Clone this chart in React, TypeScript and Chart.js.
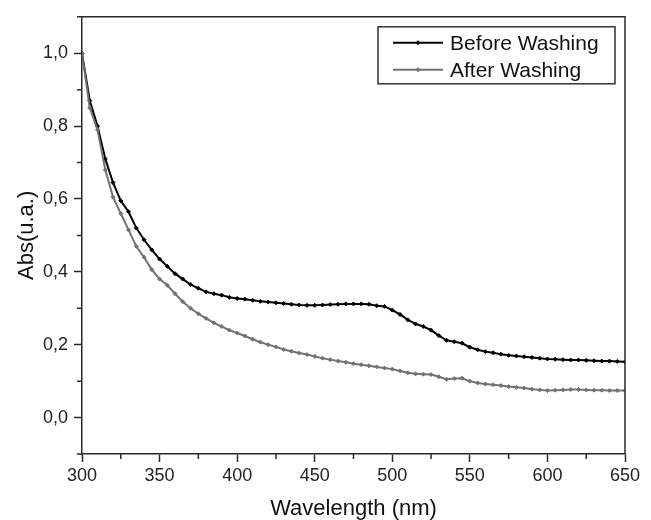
import { useEffect, useRef } from "react";
import { Chart, registerables } from "chart.js";

Chart.register(...registerables);

const wavelengths = [
  300, 305, 310, 315, 320, 325, 330, 335, 340, 345, 350, 355, 360, 365, 370, 375,
  380, 385, 390, 395, 400, 405, 410, 415, 420, 425, 430, 435, 440, 445, 450, 455,
  460, 465, 470, 475, 480, 485, 490, 495, 500, 505, 510, 515, 520, 525, 530, 535,
  540, 545, 550, 555, 560, 565, 570, 575, 580, 585, 590, 595, 600, 605, 610, 615,
  620, 625, 630, 635, 640, 645, 650,
];

const beforeWashing = [
  1.0, 0.87, 0.8, 0.71, 0.645, 0.595, 0.565, 0.52, 0.488, 0.46, 0.435, 0.415, 0.395, 0.38, 0.365, 0.355,
  0.345, 0.34, 0.336, 0.33, 0.327, 0.325, 0.322, 0.319, 0.317, 0.315, 0.313, 0.311, 0.309, 0.308, 0.308, 0.309,
  0.31, 0.311, 0.312, 0.312, 0.312, 0.311, 0.307, 0.305, 0.295, 0.283, 0.268, 0.257, 0.25, 0.24, 0.225, 0.212,
  0.208, 0.204, 0.193, 0.186, 0.181, 0.178, 0.174, 0.171, 0.169, 0.167, 0.165, 0.163, 0.161, 0.16, 0.159, 0.158,
  0.158, 0.157, 0.156, 0.155, 0.155, 0.154, 0.153,
];

const afterWashing = [
  1.0, 0.85, 0.79, 0.68, 0.605, 0.56, 0.515, 0.47, 0.44, 0.406, 0.38, 0.363, 0.34, 0.318, 0.3, 0.285,
  0.272, 0.26, 0.25, 0.24, 0.232, 0.224, 0.215, 0.207, 0.2, 0.194, 0.187, 0.182, 0.177, 0.173, 0.168, 0.163,
  0.159, 0.155, 0.152, 0.148, 0.145, 0.142, 0.139, 0.136, 0.133, 0.128, 0.123, 0.12, 0.119, 0.118, 0.112, 0.105,
  0.107, 0.108, 0.1, 0.095, 0.092, 0.09, 0.088, 0.085, 0.083, 0.081, 0.078, 0.076, 0.074, 0.075, 0.076, 0.077,
  0.077, 0.076, 0.075, 0.075, 0.074, 0.074, 0.074,
];

const seriesLabels = ["Before Washing", "After Washing"];
const xMajorTicks = [300, 350, 400, 450, 500, 550, 600, 650];
const xMinorTicks = [325, 375, 425, 475, 525, 575, 625];
const yMajorTicks = [0, 0.2, 0.4, 0.6, 0.8, 1.0];
const yMinorTicks = [-0.1, 0.1, 0.3, 0.5, 0.7, 0.9, 1.1];
const xTitle = "Wavelength (nm)";
const yTitle = "Abs(u.a.)";

const FONT = '"Liberation Sans", Arial, Helvetica, sans-serif';
const AXIS_COLOR = "#2a2a2a";

const framePlugin = {
  id: "frameAndLegend",
  afterDraw(chart: any) {
    const { ctx, chartArea, scales } = chart;
    const { left, right, top, bottom } = chartArea;
    ctx.save();
    // frame (top and right sides)
    ctx.strokeStyle = AXIS_COLOR;
    ctx.lineWidth = 1.5;
    ctx.beginPath();
    ctx.moveTo(left, top);
    ctx.lineTo(right, top);
    ctx.lineTo(right, bottom);
    ctx.stroke();
    // minor ticks
    ctx.beginPath();
    xMinorTicks.forEach((v) => {
      const x = scales.x.getPixelForValue(v);
      ctx.moveTo(x, bottom);
      ctx.lineTo(x, bottom + 5);
    });
    yMinorTicks.forEach((v) => {
      const y = scales.y.getPixelForValue(v);
      ctx.moveTo(left, y);
      ctx.lineTo(left - 5, y);
    });
    ctx.stroke();

    // legend box
    const bx = right - 247;
    const by = top + 10;
    const bw = 237;
    const bh = 57;
    ctx.fillStyle = "#ffffff";
    ctx.fillRect(bx, by, bw, bh);
    ctx.strokeStyle = "#333333";
    ctx.lineWidth = 1.5;
    ctx.strokeRect(bx, by, bw, bh);
    chart.data.datasets.forEach((ds: any, i: number) => {
      const ly = by + 16 + i * 27;
      ctx.strokeStyle = ds.borderColor;
      ctx.lineWidth = 2;
      ctx.beginPath();
      ctx.moveTo(bx + 15, ly);
      ctx.lineTo(bx + 65, ly);
      ctx.stroke();
      ctx.fillStyle = ds.borderColor;
      ctx.beginPath();
      ctx.moveTo(bx + 40, ly - 2.5);
      ctx.lineTo(bx + 42.5, ly);
      ctx.lineTo(bx + 40, ly + 2.5);
      ctx.lineTo(bx + 37.5, ly);
      ctx.closePath();
      ctx.fill();
      ctx.fillStyle = "#111111";
      ctx.font = `21px ${FONT}`;
      ctx.textBaseline = "middle";
      ctx.textAlign = "left";
      ctx.fillText(ds.label, bx + 72, ly + 1);
    });
    ctx.restore();
  },
};

export default function App() {
  const canvasRef = useRef<HTMLCanvasElement | null>(null);

  useEffect(() => {
    document.body.style.margin = "0";
    const canvas = canvasRef.current;
    if (!canvas) return;
    const chart = new Chart(canvas, {
      type: "line",
      data: {
        datasets: [
          {
            label: seriesLabels[0],
            data: wavelengths.map((w, i) => ({ x: w, y: beforeWashing[i] })),
            borderColor: "#000000",
            backgroundColor: "#000000",
            borderWidth: 2,
            pointStyle: "rectRot",
            pointRadius: 2,
            pointBorderWidth: 1,
            tension: 0,
            order: 1,
          },
          {
            label: seriesLabels[1],
            data: wavelengths.map((w, i) => ({ x: w, y: afterWashing[i] })),
            borderColor: "#727272",
            backgroundColor: "#727272",
            borderWidth: 2,
            pointStyle: "rectRot",
            pointRadius: 2,
            pointBorderWidth: 1,
            tension: 0,
            order: 0,
          },
        ],
      },
      options: {
        responsive: false,
        animation: false,
        devicePixelRatio: 1,
        layout: { padding: { top: 13, right: 26, left: 0, bottom: 0 } },
        plugins: {
          legend: { display: false },
          tooltip: { enabled: false },
        },
        scales: {
          x: {
            type: "linear",
            min: 300,
            max: 650,
            afterBuildTicks: (scale: any) => {
              scale.ticks = xMajorTicks.map((v) => ({ value: v }));
            },
            afterFit: (scale: any) => {
              scale.height = 66;
            },
            grid: {
              drawOnChartArea: false,
              drawTicks: true,
              tickLength: 8,
              tickColor: AXIS_COLOR,
              tickWidth: 1.5,
            },
            border: { display: true, color: AXIS_COLOR, width: 1.5 },
            ticks: {
              padding: 3,
              color: "#222222",
              font: { family: FONT, size: 18 },
              maxRotation: 0,
              callback: (v: any) => String(v),
            },
            title: {
              display: true,
              text: xTitle,
              color: "#111111",
              font: { family: FONT, size: 22, lineHeight: 1 },
              padding: { top: 0, bottom: 0 },
            },
          },
          y: {
            type: "linear",
            min: -0.1,
            max: 1.1,
            afterBuildTicks: (scale: any) => {
              scale.ticks = yMajorTicks.map((v) => ({ value: v }));
            },
            afterFit: (scale: any) => {
              scale.width = 82;
            },
            grid: {
              drawOnChartArea: false,
              drawTicks: true,
              tickLength: 8,
              tickColor: AXIS_COLOR,
              tickWidth: 1.5,
            },
            border: { display: true, color: AXIS_COLOR, width: 1.5 },
            ticks: {
              padding: 6,
              color: "#222222",
              font: { family: FONT, size: 18 },
              callback: (v: any) => Number(v).toFixed(1).replace(".", ","),
            },
            title: {
              display: true,
              text: yTitle,
              color: "#111111",
              font: { family: FONT, size: 22, lineHeight: 1 },
              padding: { top: 16, bottom: 0 },
            },
          },
        },
      },
      plugins: [framePlugin],
    });
    return () => chart.destroy();
  }, []);

  return (
    <div style={{ width: 651, height: 520, background: "#ffffff" }}>
      <canvas ref={canvasRef} width={651} height={520} style={{ display: "block" }} />
    </div>
  );
}
